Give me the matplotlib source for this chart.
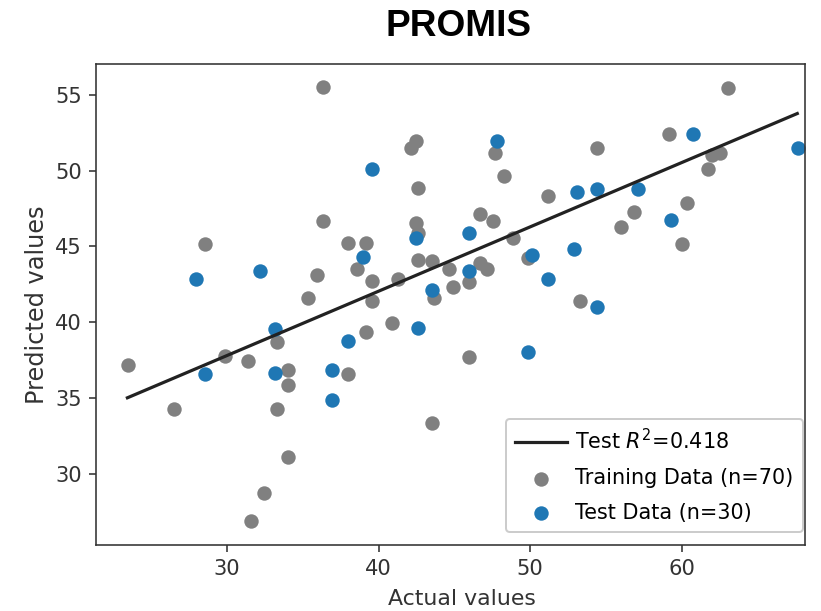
import matplotlib
matplotlib.use("Agg")
import matplotlib.pyplot as plt

train_x = [36.36, 36.36, 28.55, 35.94, 35.37, 42.48, 42.15, 47.67, 42.63, 48.26,
           51.16, 46.70, 47.58, 42.48, 42.63, 48.86, 37.99, 39.15, 38.56, 39.57,
           39.57, 41.31, 42.63, 43.51, 44.65, 45.97, 44.94, 46.70, 47.14, 43.69,
           49.85, 63.09, 59.17, 54.40, 61.99, 62.54, 61.77, 60.34, 56.86, 55.99,
           60.01, 53.30, 33.32, 29.87, 31.41, 23.45, 34.05, 34.05, 26.50, 33.28,
           34.05, 32.46, 31.58, 40.87, 39.15, 38.01, 45.97, 43.51]
train_y = [55.50, 46.68, 45.15, 43.10, 41.64, 51.92, 51.50, 51.16, 48.88, 49.62,
           48.33, 47.17, 46.68, 46.55, 45.90, 45.53, 45.26, 45.26, 43.49, 42.70,
           41.42, 42.85, 44.10, 44.03, 43.49, 42.67, 42.34, 43.88, 43.55, 41.64,
           44.25, 55.43, 52.39, 51.51, 51.05, 51.16, 50.07, 47.87, 47.28, 46.29,
           45.13, 41.42, 38.72, 37.78, 37.47, 37.19, 36.90, 35.88, 34.30, 34.30,
           31.12, 28.79, 26.93, 39.93, 39.34, 36.60, 37.74, 33.40]

test_x = [27.95, 32.16, 47.84, 39.57, 42.48, 45.97, 39.00, 45.97, 43.51, 50.11,
          51.16, 60.78, 67.71, 53.08, 54.40, 57.15, 59.31, 52.90, 54.40, 33.17,
          28.55, 33.17, 36.91, 36.91, 42.63, 38.01, 49.89]
test_y = [42.83, 43.40, 51.93, 50.07, 45.53, 45.87, 44.28, 43.39, 42.13, 44.43,
          42.85, 52.39, 51.49, 48.59, 48.77, 48.75, 46.73, 44.82, 40.99, 39.54,
          36.60, 36.64, 36.86, 34.89, 39.61, 38.77, 38.03]

fit_x = [23.42, 67.64]
fit_y = [35.04, 53.75]

title = "PROMIS"
r2_label = "Test $R^2$=0.418"
train_label = "Training Data (n=70)"
test_label = "Test Data (n=30)"

plt.rcParams['font.family'] = ['DejaVu Sans']
fig = plt.figure(figsize=(821/144, 611/144), dpi=144)
ax = fig.add_axes([0.117, 0.108, 0.8635, 0.787])

ax.plot(fit_x, fit_y, color='#222222', lw=1.6, label=r2_label, zorder=3)
ax.scatter(train_x, train_y, s=52, color='#808080', label=train_label, zorder=2, linewidths=0)
ax.scatter(test_x, test_y, s=52, color='#1f77b4', label=test_label, zorder=2.5, linewidths=0)

ax.set_xlim(21.35, 68.15)
ax.set_ylim(25.35, 57.0)
ax.set_xticks([30, 40, 50, 60])
ax.set_yticks([30, 35, 40, 45, 50, 55])
ax.tick_params(labelsize=10.5, colors='#333333', labelcolor='#333333')
for sp in ax.spines.values():
    sp.set_color('#333333')
ax.set_xlabel("Actual values", fontsize=11, color='#333333')
ax.set_ylabel("Predicted values", fontsize=12, color='#333333', labelpad=3)
ax.xaxis.set_label_coords(0.516, -0.092)
fig.text(0.558, 0.957, title, ha='center', va='center', fontsize=18.5,
         fontweight='bold', family='Liberation Sans')
ax.legend(loc='lower right', bbox_to_anchor=(0.997, 0.027), borderaxespad=0,
          fontsize=10.4, frameon=True, framealpha=1,
          handlelength=2.5, handletextpad=0.4, borderpad=0.45, labelspacing=0.7)

fig.savefig("out.png", dpi=144)
